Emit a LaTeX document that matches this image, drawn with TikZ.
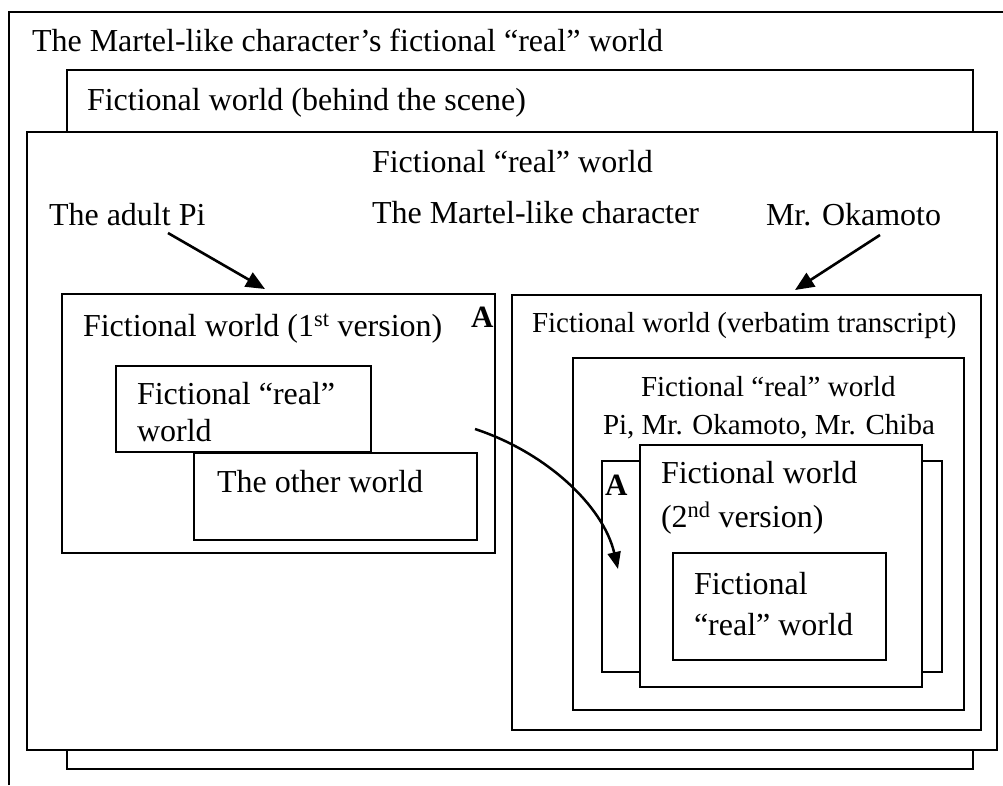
\documentclass[tikz,border=0pt]{standalone}
\usepackage{fontspec}
\setmainfont{Liberation Serif}
\usetikzlibrary{arrows.meta}
\tikzset{
  box/.style={draw, line width=1.4pt, fill=white, anchor=north west, inner sep=0pt, outer sep=0pt},
  txt/.style={anchor=base west, inner sep=0pt, outer sep=0pt, font=\fontsize{32}{38}\selectfont},
  stxt/.style={anchor=base west, inner sep=0pt, outer sep=0pt, font=\fontsize{29}{34}\selectfont},
  btxt/.style={anchor=base west, inner sep=0pt, outer sep=0pt, font=\fontsize{31}{36}\selectfont\bfseries},
  arr/.style={line width=2.6pt, -{Triangle[length=19pt,width=16pt]}},
  carr/.style={line width=2.5pt, -{Triangle[length=17pt,width=13pt]}}
}
\begin{document}
\begin{tikzpicture}[x=1pt,y=-1pt]
\useasboundingbox (0,0) rectangle (1003,785);
% outermost world (only top and left edges visible)
\draw[line width=1.4pt] (9,785) -- (9,12) -- (1003,12);
\node[txt] (title) at (32,51) {The Martel-like character’s fictional “real” world};
% behind the scene
\node[box, minimum width=906pt, minimum height=699pt] (behind) at (67,70) {};
\node[txt] (behindlbl) at (87,110) {Fictional world (behind the scene)};
% fictional real world
\node[box, minimum width=970pt, minimum height=618pt] (frw) at (27,132) {};
\node[txt] (frwlbl) at (372,172) {Fictional “real” world};
\node[txt] (adultpi) at (49,225) {The adult Pi};
\node[txt] (martel) at (372,223) {The Martel-like character};
\node[txt] (okamoto) at (766,225) {Mr. Okamoto};
% first version
\node[box, minimum width=433pt, minimum height=259pt] (first) at (62,294) {};
\node[txt] (firstlbl) at (83,336) {Fictional world (1\textsuperscript{st} version)};
\node[btxt] (aone) at (471,327) {A};
\node[box, minimum width=255pt, minimum height=86pt] (frwone) at (116,366) {};
\node[txt] (frwonea) at (137,404) {Fictional “real”};
\node[txt] (frwoneb) at (137,441) {world};
\node[box, minimum width=283pt, minimum height=87pt] (other) at (194,453) {};
\node[txt] (otherlbl) at (217,492) {The other world};
% verbatim transcript
\node[box, minimum width=469pt, minimum height=435pt] (verb) at (512,295) {};
\node[stxt] (verblbl) at (532,332) {Fictional world (verbatim transcript)};
\node[box, minimum width=391pt, minimum height=352pt] (frwtwo) at (573,358) {};
\node[stxt] (frwtwolbl) at (641,396) {Fictional “real” world};
\node[stxt] (names) at (603,434) {Pi, Mr. Okamoto, Mr. Chiba};
\node[box, minimum width=340pt, minimum height=211pt] (backa) at (602,461) {};
\node[btxt] (atwo) at (605,495) {A};
\node[box, minimum width=282pt, minimum height=242pt] (second) at (640,445) {};
\node[txt] (secondlbla) at (661,483) {Fictional world};
\node[txt] (secondlblb) at (661,527) {(2\textsuperscript{nd} version)};
\node[box, minimum width=213pt, minimum height=107pt] (inner) at (673,553) {};
\node[txt] (innera) at (694,594) {Fictional};
\node[txt] (innerb) at (694,635) {“real” world};
% arrows
\coordinate (pistart) at (168,233);
\coordinate (piend) at (265,289);
\coordinate (okstart) at (880,235);
\coordinate (okend) at (795,290);
\draw[arr] (pistart) -- (piend);
\draw[arr] (okstart) -- (okend);
\coordinate (cstart) at (475,429);
\coordinate (cend) at (618,569);
\draw[carr] (cstart) .. controls (545,452) and (603,505) .. (cend);
\end{tikzpicture}
\end{document}
